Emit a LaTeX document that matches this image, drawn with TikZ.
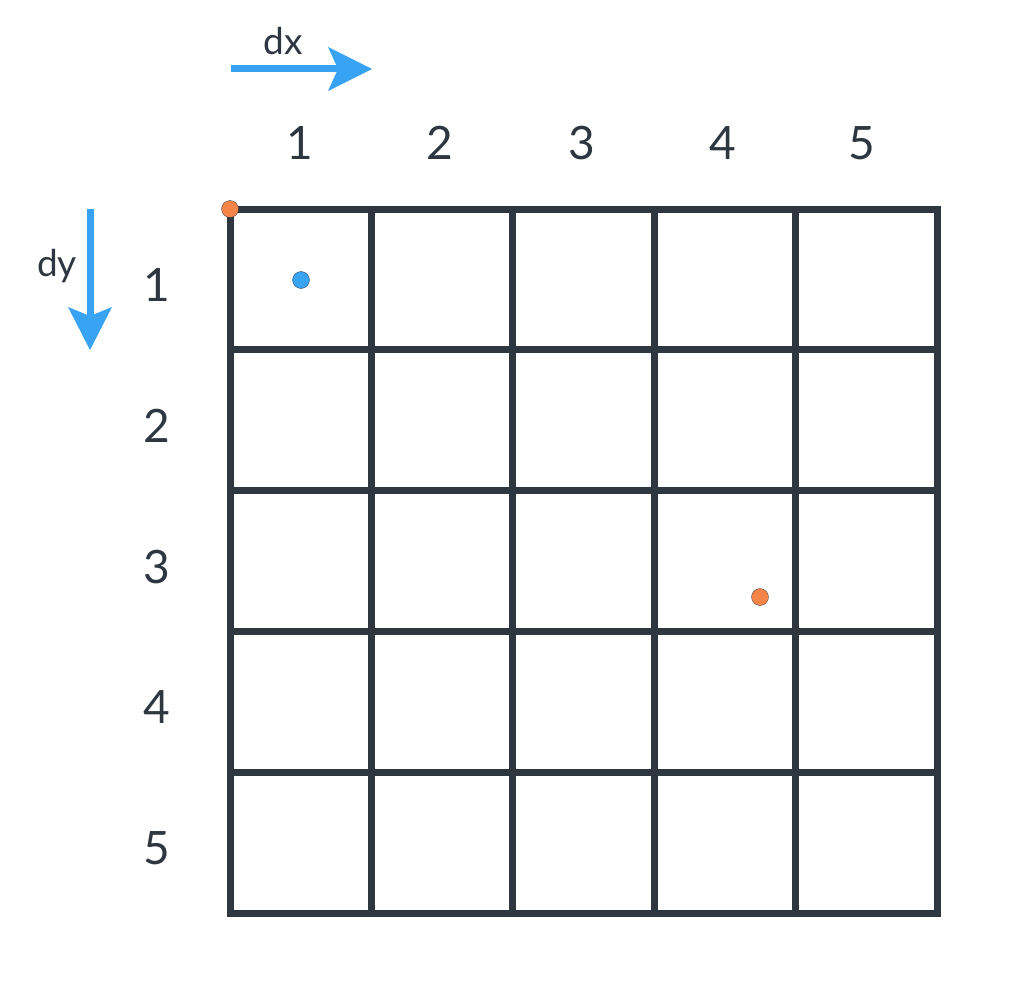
\documentclass[tikz,border=0pt]{standalone}
\usepackage{fontspec}
\setmainfont{Lato}
\definecolor{ink}{HTML}{2E3640}
\definecolor{sky}{HTML}{37A3F2}
\definecolor{amber}{HTML}{F58448}
\begin{document}
\begin{tikzpicture}[x=1pt,y=-1pt,
  gridline/.style={draw=ink,line width=7pt,line cap=rect},
  lbl/.style={text=ink,font=\fontsize{46}{46}\selectfont,inner sep=0pt},
  axlbl/.style={text=ink,font=\fontsize{37}{37}\selectfont,inner sep=0pt},
  dot/.style={circle,fill=amber,draw=ink,line width=0.3pt,minimum size=17pt,inner sep=0pt},
  bdot/.style={circle,fill=sky,draw=ink,line width=0.3pt,minimum size=17pt,inner sep=0pt},
  shaft/.style={draw=sky,line width=7pt}]
\useasboundingbox (0,0) rectangle (1024,995);
% grid
\foreach \i in {0,...,5}{
  \draw[gridline] ({230+141.4*\i},209) -- ({230+141.4*\i},913);
  \draw[gridline] (230,{209+140.8*\i}) -- (937,{209+140.8*\i});
}
% column labels
\foreach \n/\x in {1/300,2/440,3/582,4/723,5/862}
  \node[lbl] (c\n) at (\x,143) {\n};
% row labels
\foreach \n/\y in {1/285,2/426,3/567,4/707,5/848}
  \node[lbl] (r\n) at (157,\y) {\n};
% dx arrow
\node[axlbl] (dx) at (283,41) {dx};
\coordinate (dxs) at (231,69);
\coordinate (dxe) at (338,69);
\draw[shaft] (dxs) -- (dxe);
\fill[sky] (372,69) -- (328,47) -- (338,69) -- (328,91) -- cycle;
% dy arrow
\node[axlbl] (dy) at (57,266) {dy};
\coordinate (dys) at (90,209);
\coordinate (dye) at (90,316);
\draw[shaft] (dys) -- (dye);
\fill[sky] (90,350) -- (68,307) -- (90,316) -- (112,307) -- cycle;
% dots
\node[dot] (o1) at (230,209) {};
\node[bdot] (b1) at (301,280) {};
\node[dot] (o2) at (760,597) {};
\end{tikzpicture}
\end{document}
